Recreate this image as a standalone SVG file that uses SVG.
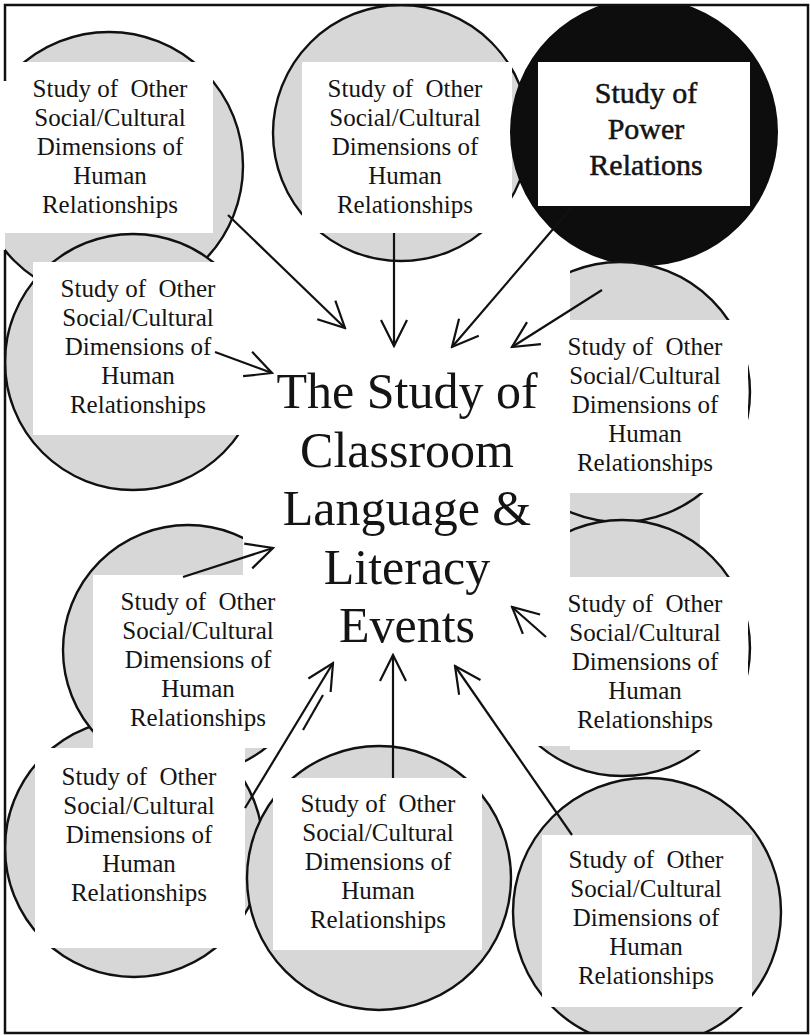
<svg xmlns="http://www.w3.org/2000/svg" width="811" height="1035" viewBox="0 0 811 1035">
<defs>
<style>
.c{fill:#d7d7d7;stroke:#111;stroke-width:2.4}
.k{fill:#0d0d0d;stroke:#0d0d0d;stroke-width:2}
.w{fill:#fff}
.g{fill:#d7d7d7}
.t{font-family:"Liberation Serif","Times New Roman",serif;font-size:25px;fill:#141414;text-anchor:middle}
.pw{font-size:30px;stroke:#141414;stroke-width:0.5}
.big{font-size:50px}
.a{stroke:#111;stroke-width:2.2;fill:none}
.ah{marker-end:url(#ah)}
</style>
<marker id="ah" markerUnits="userSpaceOnUse" viewBox="-30 -16 32 32" markerWidth="32" markerHeight="32" refX="0" refY="0" orient="auto">
<path d="M-26,-13 L0,0 L-26,13" fill="none" stroke="#111" stroke-width="2.2"/>
</marker>
<clipPath id="frameClip"><rect x="5" y="5" width="803" height="1028"/></clipPath>
<clipPath id="noCenter"><path clip-rule="evenodd" d="M0,0H811V1035H0Z M243,265H570V746H243Z"/></clipPath>
<clipPath id="n7clip"><path clip-rule="evenodd" d="M0,0H811V1035H0Z M243,265H570V746H243Z M35,748H245V948H35Z"/></clipPath>
</defs>
<rect width="811" height="1035" fill="#fff"/>

<g id="nodes" clip-path="url(#frameClip)">
<g id="center">
<rect class="w" x="243" y="265" width="327" height="481"/>
<text class="t big" x="407" y="408">The Study of<tspan x="407" dy="59">Classroom</tspan><tspan x="407" dy="58">Language &amp;</tspan><tspan x="407" dy="59">Literacy</tspan><tspan x="407" dy="58">Events</tspan></text>
</g>

<g id="node1">
<circle class="c" cx="109" cy="166" r="134"/>
<rect class="w" x="0" y="62" width="213" height="171"/>
<text class="t" x="110" y="97">Study of&#160; Other<tspan x="110" dy="29">Social/Cultural</tspan><tspan x="110" dy="29">Dimensions of</tspan><tspan x="110" dy="29">Human</tspan><tspan x="110" dy="29">Relationships</tspan></text>
</g>

<g id="node4">
<circle class="c" cx="133" cy="362" r="128" clip-path="url(#noCenter)"/>
<rect class="w" x="33" y="262" width="234" height="173"/>
<text class="t" x="138" y="297">Study of&#160; Other<tspan x="138" dy="29">Social/Cultural</tspan><tspan x="138" dy="29">Dimensions of</tspan><tspan x="138" dy="29">Human</tspan><tspan x="138" dy="29">Relationships</tspan></text>
</g>

<g id="node2">
<circle class="c" cx="401" cy="133" r="128"/>
<rect class="w" x="302" y="62" width="210" height="171"/>
<text class="t" x="405" y="97">Study of&#160; Other<tspan x="405" dy="29">Social/Cultural</tspan><tspan x="405" dy="29">Dimensions of</tspan><tspan x="405" dy="29">Human</tspan><tspan x="405" dy="29">Relationships</tspan></text>
</g>

<g id="node3">
<circle class="k" cx="644" cy="132" r="133"/>
<rect class="w" x="538" y="62" width="212" height="144"/>
<text class="t pw" x="646" y="103">Study of<tspan x="646" dy="36">Power</tspan><tspan x="646" dy="36">Relations</tspan></text>
</g>

<g id="node5">
<rect class="g" x="570" y="493" width="130" height="70"/>
<circle class="c" cx="620" cy="392" r="130" clip-path="url(#noCenter)"/>
<rect class="w" x="570" y="320" width="178" height="173"/>
<text class="t" x="645" y="355">Study of&#160; Other<tspan x="645" dy="29">Social/Cultural</tspan><tspan x="645" dy="29">Dimensions of</tspan><tspan x="645" dy="29">Human</tspan><tspan x="645" dy="29">Relationships</tspan></text>
</g>

<g id="node6">
<circle class="c" cx="622" cy="648" r="128" clip-path="url(#noCenter)"/>
<rect class="w" x="570" y="577" width="178" height="173"/>
<text class="t" x="645" y="612">Study of&#160; Other<tspan x="645" dy="29">Social/Cultural</tspan><tspan x="645" dy="29">Dimensions of</tspan><tspan x="645" dy="29">Human</tspan><tspan x="645" dy="29">Relationships</tspan></text>
</g>

<g id="node10">
<circle class="c" cx="647" cy="912" r="134"/>
<rect class="w" x="542" y="835" width="210" height="172"/>
<text class="t" x="646" y="868">Study of&#160; Other<tspan x="646" dy="29">Social/Cultural</tspan><tspan x="646" dy="29">Dimensions of</tspan><tspan x="646" dy="29">Human</tspan><tspan x="646" dy="29">Relationships</tspan></text>
</g>

<g id="node8">
<circle class="c" cx="134" cy="848" r="129"/>
<rect class="w" x="35" y="748" width="210" height="200"/>
<text class="t" x="139" y="785">Study of&#160; Other<tspan x="139" dy="29">Social/Cultural</tspan><tspan x="139" dy="29">Dimensions of</tspan><tspan x="139" dy="29">Human</tspan><tspan x="139" dy="29">Relationships</tspan></text>
</g>

<g id="node9">
<circle class="c" cx="379" cy="878" r="132"/>
<rect class="w" x="273" y="778" width="209" height="172"/>
<text class="t" x="378" y="812">Study of&#160; Other<tspan x="378" dy="29">Social/Cultural</tspan><tspan x="378" dy="29">Dimensions of</tspan><tspan x="378" dy="29">Human</tspan><tspan x="378" dy="29">Relationships</tspan></text>
</g>

<g id="node7">
<circle class="c" cx="188" cy="650" r="125" clip-path="url(#n7clip)"/>
<rect class="w" x="93" y="575" width="222" height="173"/>
<text class="t" x="198" y="610">Study of&#160; Other<tspan x="198" dy="29">Social/Cultural</tspan><tspan x="198" dy="29">Dimensions of</tspan><tspan x="198" dy="29">Human</tspan><tspan x="198" dy="29">Relationships</tspan></text>
</g>
</g>

<g id="frame"><path d="M5,81V5H808V1033H5V250" fill="none" stroke="#111" stroke-width="2.5"/></g>

<g id="connectors">
<line class="a ah" x1="228" y1="215" x2="345" y2="328"/>
<line class="a ah" x1="394" y1="233" x2="394" y2="346"/>
<line class="a ah" x1="572" y1="207" x2="452" y2="347"/>
<line class="a ah" x1="602" y1="290" x2="512" y2="347"/>
<line class="a ah" x1="215" y1="352" x2="272" y2="373"/>
<line class="a ah" x1="183" y1="577" x2="273" y2="548"/>
<line class="a ah" x1="546" y1="637" x2="512" y2="607"/>
<line class="a ah" x1="245" y1="808" x2="333" y2="663"/>
<line class="a" x1="303" y1="730" x2="323" y2="695"/>
<line class="a ah" x1="393" y1="778" x2="393" y2="655"/>
<line class="a ah" x1="572" y1="835" x2="455" y2="666"/>
</g>
</svg>
